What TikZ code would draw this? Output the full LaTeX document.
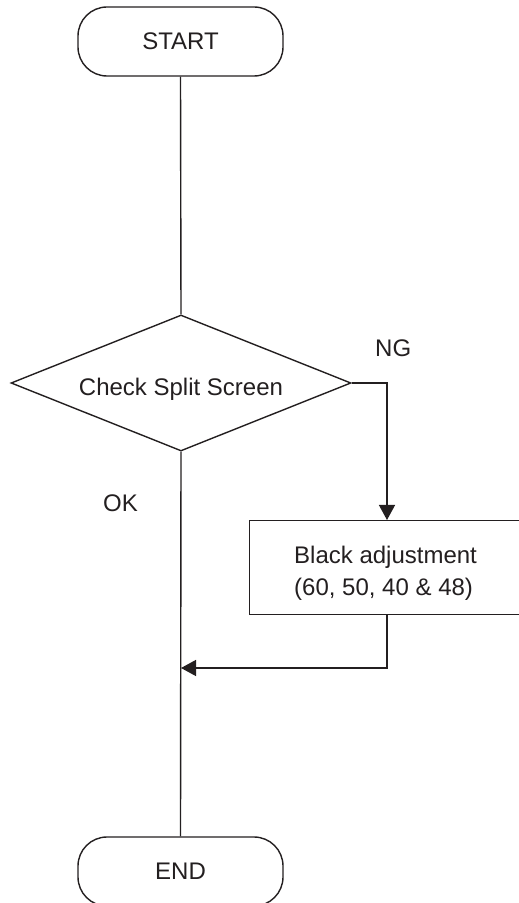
\documentclass[tikz,border=0pt]{standalone}
\usepackage{fontspec}
\setmainfont{Liberation Sans}
\usetikzlibrary{shapes.geometric,arrows.meta}
\definecolor{ink}{RGB}{35,31,32}
\tikzset{
  ln/.style={draw=ink,line width=1.4pt},
  arr/.style={ln,-{Triangle[width=16pt,length=15pt]}},
  term/.style={ln,rectangle,rounded corners=29pt,minimum width=205pt,minimum height=69pt,inner sep=0pt,text=ink},
  txt/.style={text=ink,inner sep=0pt,font=\fontsize{24pt}{28pt}\selectfont},
  dec/.style={ln,diamond,minimum width=340pt,minimum height=136pt,inner sep=0pt},
  proc/.style={ln,rectangle,inner sep=0pt,anchor=north west,minimum width=320pt,minimum height=94pt}
}
\begin{document}
\begin{tikzpicture}[x=1pt,y=1pt]
\useasboundingbox (0,0) rectangle (519,903);
\clip (0,0) rectangle (519,903);
\node[term,txt] (start) at (180.5,861.5) {START};
\node[dec] (dec) at (181,520) {};
\node[txt,anchor=base] (dectxt) at (181,507) {Check Split Screen};
\node[proc] (box) at (249,383) {};
\node[txt,anchor=base west] (bt1) at (294,339) {Black adjustment};
\node[txt,anchor=base west] (bt2) at (294,307) {(60, 50, 40 \& 48)};
\node[term,txt] (end) at (180.5,31.5) {END};
\node[txt,anchor=base west] (ng) at (375,546) {NG};
\node[txt,anchor=base west] (ok) at (103,391) {OK};
\coordinate (bx) at (387,0);
\coordinate (join) at (181,235);
\draw[ln] (start.south) -- (dec.north);
\draw[arr] (dec.east) -| (bx |- box.north);
\draw[arr] (bx |- box.south) |- (join);
\draw[ln] (dec.south) -- (end.north);
\end{tikzpicture}
\end{document}
